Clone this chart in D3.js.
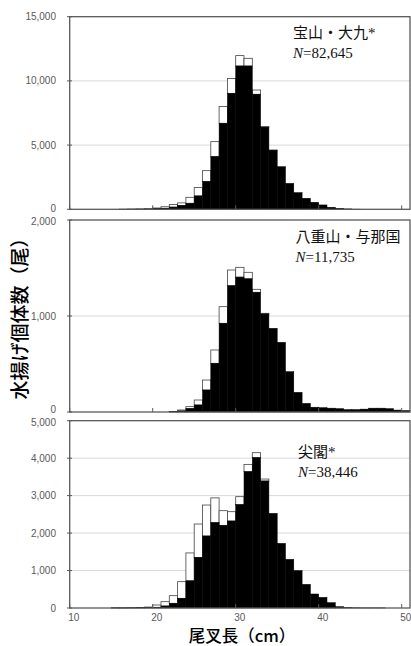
<!DOCTYPE html>
<html><head><meta charset="utf-8">
<script src="https://cdn.jsdelivr.net/npm/d3@7"></script>
<style>body{margin:0;background:#fff}</style>
</head><body><svg id="c" width="411" height="646"></svg>
<script>
// Fork length categories (cm)
const lengths = [10,11,12,13,14,15,16,17,18,19,20,21,22,23,24,25,26,27,28,29,30,31,32,33,34,35,36,37,38,39,40,41,42,43,44,45,46,47,48,49,50];
const xTickLabels = [10,20,30,40,50];

// Panel 1: 宝山・大九*
const p1Black = [0,0,0,0,0,0,5,10,15,20,40,80,170,300,470,1040,2160,4100,6700,9030,11160,11160,8960,6400,4600,3320,2020,1300,860,545,340,160,80,30,10,0,0,0,0,0,0];
const p1White = [0,0,0,0,0,0,5,10,15,30,60,120,200,200,465,650,850,1170,1300,1150,810,600,330,40,20,0,0,0,0,0,0,0,0,0,0,0,0,0,0,0,0];
const p1Ticks = [0,5000,10000,15000];

// Panel 2: 八重山・与那国
const p2Black = [0,0,0,0,0,0,0,0,0,0,0,0,3,10,35,73,229,507,924,1315,1405,1387,1247,1020,872,726,420,205,90,50,45,40,35,25,25,30,40,40,35,20,15];
const p2White = [0,0,0,0,0,0,0,0,0,0,0,0,2,11,21,52,104,139,173,164,102,68,31,8,0,0,0,0,0,0,0,0,0,0,0,0,0,0,0,0,0];
const p2Ticks = [0,1000,2000];

// Panel 3: 尖閣*
const p3Black = [0,0,0,0,0,3,3,5,8,12,18,53,125,258,725,1350,1922,2278,2206,2322,2758,3638,4012,3390,2527,1726,1299,1000,632,374,285,142,36,10,5,3,3,3,0,0,0];
const p3White = [0,0,0,0,0,2,2,3,4,13,62,116,204,445,745,892,827,662,392,249,214,196,134,53,0,0,0,0,0,0,0,0,0,0,0,0,0,0,0,0,0];
const p3Ticks = [0,1000,2000,3000,4000,5000];

const labels = [
  {name:"宝山・大九*", n:"82,645"},
  {name:"八重山・与那国", n:"11,735"},
  {name:"尖閣*", n:"38,446"}
];
const yTitle = "水揚げ個体数（尾）";
const xTitle = "尾叉長（cm）";

const svg = d3.select("#c");
const x = d3.scaleBand().domain(lengths).range([69.7, 410]).padding(0);

const panels = [
  {black:p1Black, white:p1White, ticks:p1Ticks, top:16.7, bottom:209.3, lab:labels[0], lx:293, ly1:38, ly2:58, nudgeTop:0, nudgeBottom:-1},
  {black:p2Black, white:p2White, ticks:p2Ticks, top:220, bottom:412, lab:labels[1], lx:295.5, ly1:241.5, ly2:261.5, nudgeTop:1, nudgeBottom:-3},
  {black:p3Black, white:p3White, ticks:p3Ticks, top:420.7, bottom:608, lab:labels[2], lx:298, ly1:456.5, ly2:476.5, nudgeTop:1.5, nudgeBottom:0}
];

panels.forEach((p, pi) => {
  const y = d3.scaleLinear().domain([0, d3.max(p.ticks)]).range([p.bottom, p.top]);
  const top = d3.max(p.ticks);
  const g = svg.append("g");
  g.selectAll("line.grid").data(p.ticks.slice(1, -1)).join("line")
    .attr("x1", 69.7).attr("x2", 410).attr("y1", d => y(d)).attr("y2", d => y(d))
    .attr("stroke", "#d9d9d9").attr("stroke-width", 1);
  const rows = lengths.map((L, i) => ({L, b: p.black[i], w: p.white[i]}));
  g.selectAll("rect.w").data(rows.filter(r => r.w > 0)).join("rect")
    .attr("x", r => x(r.L)).attr("width", x.bandwidth())
    .attr("y", r => y(r.b + r.w)).attr("height", r => y(r.b) - y(r.b + r.w))
    .attr("fill", "#fff").attr("stroke", "#444").attr("stroke-width", 0.8);
  g.selectAll("rect.b").data(rows.filter(r => r.b > 0)).join("rect")
    .attr("x", r => x(r.L)).attr("width", x.bandwidth())
    .attr("y", r => y(r.b)).attr("height", r => p.bottom - y(r.b))
    .attr("fill", "#000").attr("stroke", "#000").attr("stroke-width", 0.5);
  g.append("rect").attr("x", 69.7).attr("y", p.top).attr("width", 410 - 69.7).attr("height", p.bottom - p.top)
    .attr("fill", "none").attr("stroke", "#595959").attr("stroke-width", 1.3);
  g.selectAll("line.yt").data(p.ticks).join("line")
    .attr("x1", 67).attr("x2", 72).attr("y1", d => y(d)).attr("y2", d => y(d))
    .attr("stroke", "#595959").attr("stroke-width", 1);
  g.selectAll("text.yl").data(p.ticks).join("text")
    .attr("x", 56)
    .attr("y", d => y(d) + (d === 0 ? p.nudgeBottom : (d === top ? p.nudgeTop : 0)))
    .attr("dy", "0.35em")
    .attr("text-anchor", "end").attr("font-family", "Liberation Sans, Arial, sans-serif")
    .attr("font-size", 10).attr("fill", "#595959")
    .text(d => d3.format(",")(d));
  g.selectAll("line.xt").data(xTickLabels).join("line")
    .attr("x1", d => x(d)).attr("x2", d => x(d)).attr("y1", p.bottom).attr("y2", p.bottom - 4)
    .attr("stroke", "#595959").attr("stroke-width", 1);
  g.append("text").attr("x", p.lx).attr("y", p.ly1)
    .attr("font-family", "Liberation Serif, 'Noto Sans CJK JP', serif").attr("font-size", 15).attr("fill", "#111")
    .text(p.lab.name);
  const t = g.append("text").attr("x", p.lx).attr("y", p.ly2)
    .attr("font-family", "Liberation Serif, serif").attr("font-size", 15).attr("fill", "#111");
  t.append("tspan").attr("font-style", "italic").text("N");
  t.append("tspan").text("=" + p.lab.n);
});

svg.selectAll("text.xl").data(xTickLabels).join("text")
  .attr("x", d => x(d) + x.bandwidth() / 2).attr("y", 617).attr("dy", "0.35em")
  .attr("text-anchor", "middle").attr("font-family", "Liberation Sans, Arial, sans-serif")
  .attr("font-size", 10).attr("fill", "#595959").text(d => d);

svg.append("text").attr("transform", "translate(27,314) rotate(-90)")
  .attr("text-anchor", "middle").attr("font-family", "'Noto Sans CJK JP', sans-serif")
  .attr("font-size", 19).attr("font-weight", 500).attr("fill", "#000").text(yTitle);
svg.append("text").attr("x", 242).attr("y", 642)
  .attr("text-anchor", "middle").attr("font-family", "'Noto Sans CJK JP', sans-serif")
  .attr("font-size", 16.5).attr("font-weight", 500).attr("fill", "#000").text(xTitle);
</script>
</body></html>
